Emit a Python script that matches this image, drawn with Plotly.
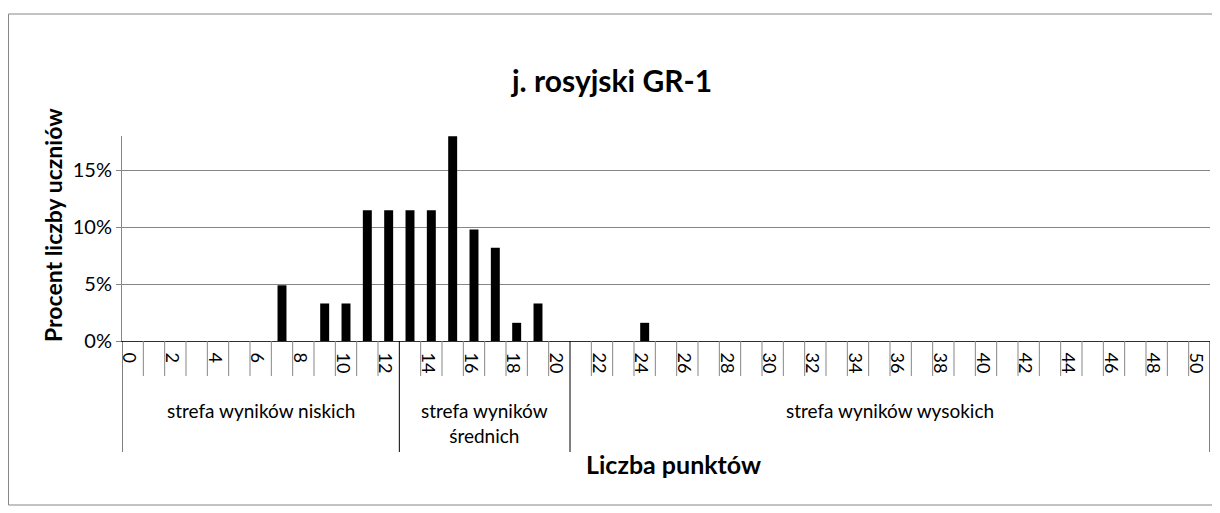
import plotly.graph_objects as go

# punkty 0..50 i procent uczniów
punkty = list(range(51))
procent = [0, 0, 0, 0, 0, 0, 0, 0.049, 0, 0.033, 0.033, 0.115, 0.115, 0.115,
           0.115, 0.180, 0.098, 0.082, 0.016, 0.033, 0, 0, 0, 0, 0.016] + [0] * 26

# strefy wyników
strefy = ["strefa wyników niskich", "strefa wyników<br>średnich", "strefa wyników wysokich"]
strefy_od = [0, 13, 21]
strefy_do = [12, 20, 50]

# strona ma 8px marginesu body, więc figura jest o 8px mniejsza
OFF = 8
W, H = 1220 - OFF, 513 - OFF
L, R, T = 122 - OFF, 10, 136 - OFF
B = H - (341 - OFF)
pw, ph = W - L - R, H - T - B

def px_x(px):
    return (px - OFF - L) / pw

def px_y(py):
    return (H - B - (py - OFF)) / ph

FONT = "Lato"
GRAY = "#868686"

fig = go.Figure()
fig.add_bar(x=punkty, y=procent, marker_color="black", marker_line_width=0, width=0.42)

even = [p for p in punkty if p % 2 == 0]
# niewidoczne kreski tylko po to, żeby opuścić etykiety
fig.update_xaxes(range=[-0.5, 50.5], tickvals=[p - 0.17 for p in even], ticktext=[str(p) for p in even],
                 tickangle=90, showgrid=False, showline=True, linecolor="#303030", linewidth=1,
                 ticks="outside", ticklen=7, tickcolor="rgba(0,0,0,0)", zeroline=False,
                 tickfont=dict(family=FONT, size=18, color="black"))
fig.update_yaxes(range=[0, 0.1803], tickvals=[0, 0.05, 0.10, 0.15], tickformat=".0%",
                 showgrid=True, gridcolor=GRAY, gridwidth=1, showline=True, linecolor=GRAY,
                 ticks="outside", ticklen=5, tickcolor=GRAY, zeroline=False,
                 tickfont=dict(family=FONT, size=20, color="black"))

# linie oddzielające kategorie i strefy
granice = [s - 0.5 for s in strefy_od] + [strefy_do[-1] + 0.5]
for p in punkty + [punkty[-1] + 1]:
    x = p - 0.5
    fig.add_shape(type="line", xref="x", yref="paper", x0=x, x1=x, y0=0,
                  y1=px_y(452) if x in granice else px_y(376),
                  line=dict(color="black" if x in granice else GRAY, width=1))

for nazwa, a, b in zip(strefy, strefy_od, strefy_do):
    fig.add_annotation(x=(a + b) / 2, xref="x", y=px_y(410 if "<br>" not in nazwa else 423), yref="paper",
                       text=nazwa, showarrow=False, yanchor="middle",
                       font=dict(family=FONT, size=19, color="black"))

# ramka wykresu
fig.add_shape(type="rect", xref="paper", yref="paper", x0=px_x(8.5), x1=px_x(1217),
              y0=px_y(505), y1=px_y(14), line=dict(color=GRAY, width=1), layer="below")

fig.add_annotation(x=px_x(611), y=px_y(60), xref="paper", yref="paper", text="<b>j. rosyjski GR-1</b>",
                   showarrow=False, font=dict(family=FONT, size=30, color="black"))
fig.add_annotation(x=px_x(37), y=px_y(225), xref="paper", yref="paper", text="<b>Procent liczby uczniów</b>",
                   textangle=-90, showarrow=False, font=dict(family=FONT, size=23, color="black"))
fig.add_annotation(x=px_x(673), y=px_y(481), xref="paper", yref="paper", text="<b>Liczba punktów</b>",
                   showarrow=False, font=dict(family=FONT, size=25, color="black"))

fig.update_layout(width=W, height=H, margin=dict(l=L, r=R, t=T, b=B),
                  plot_bgcolor="white", paper_bgcolor="white", showlegend=False)

fig.write_html("out.html")
